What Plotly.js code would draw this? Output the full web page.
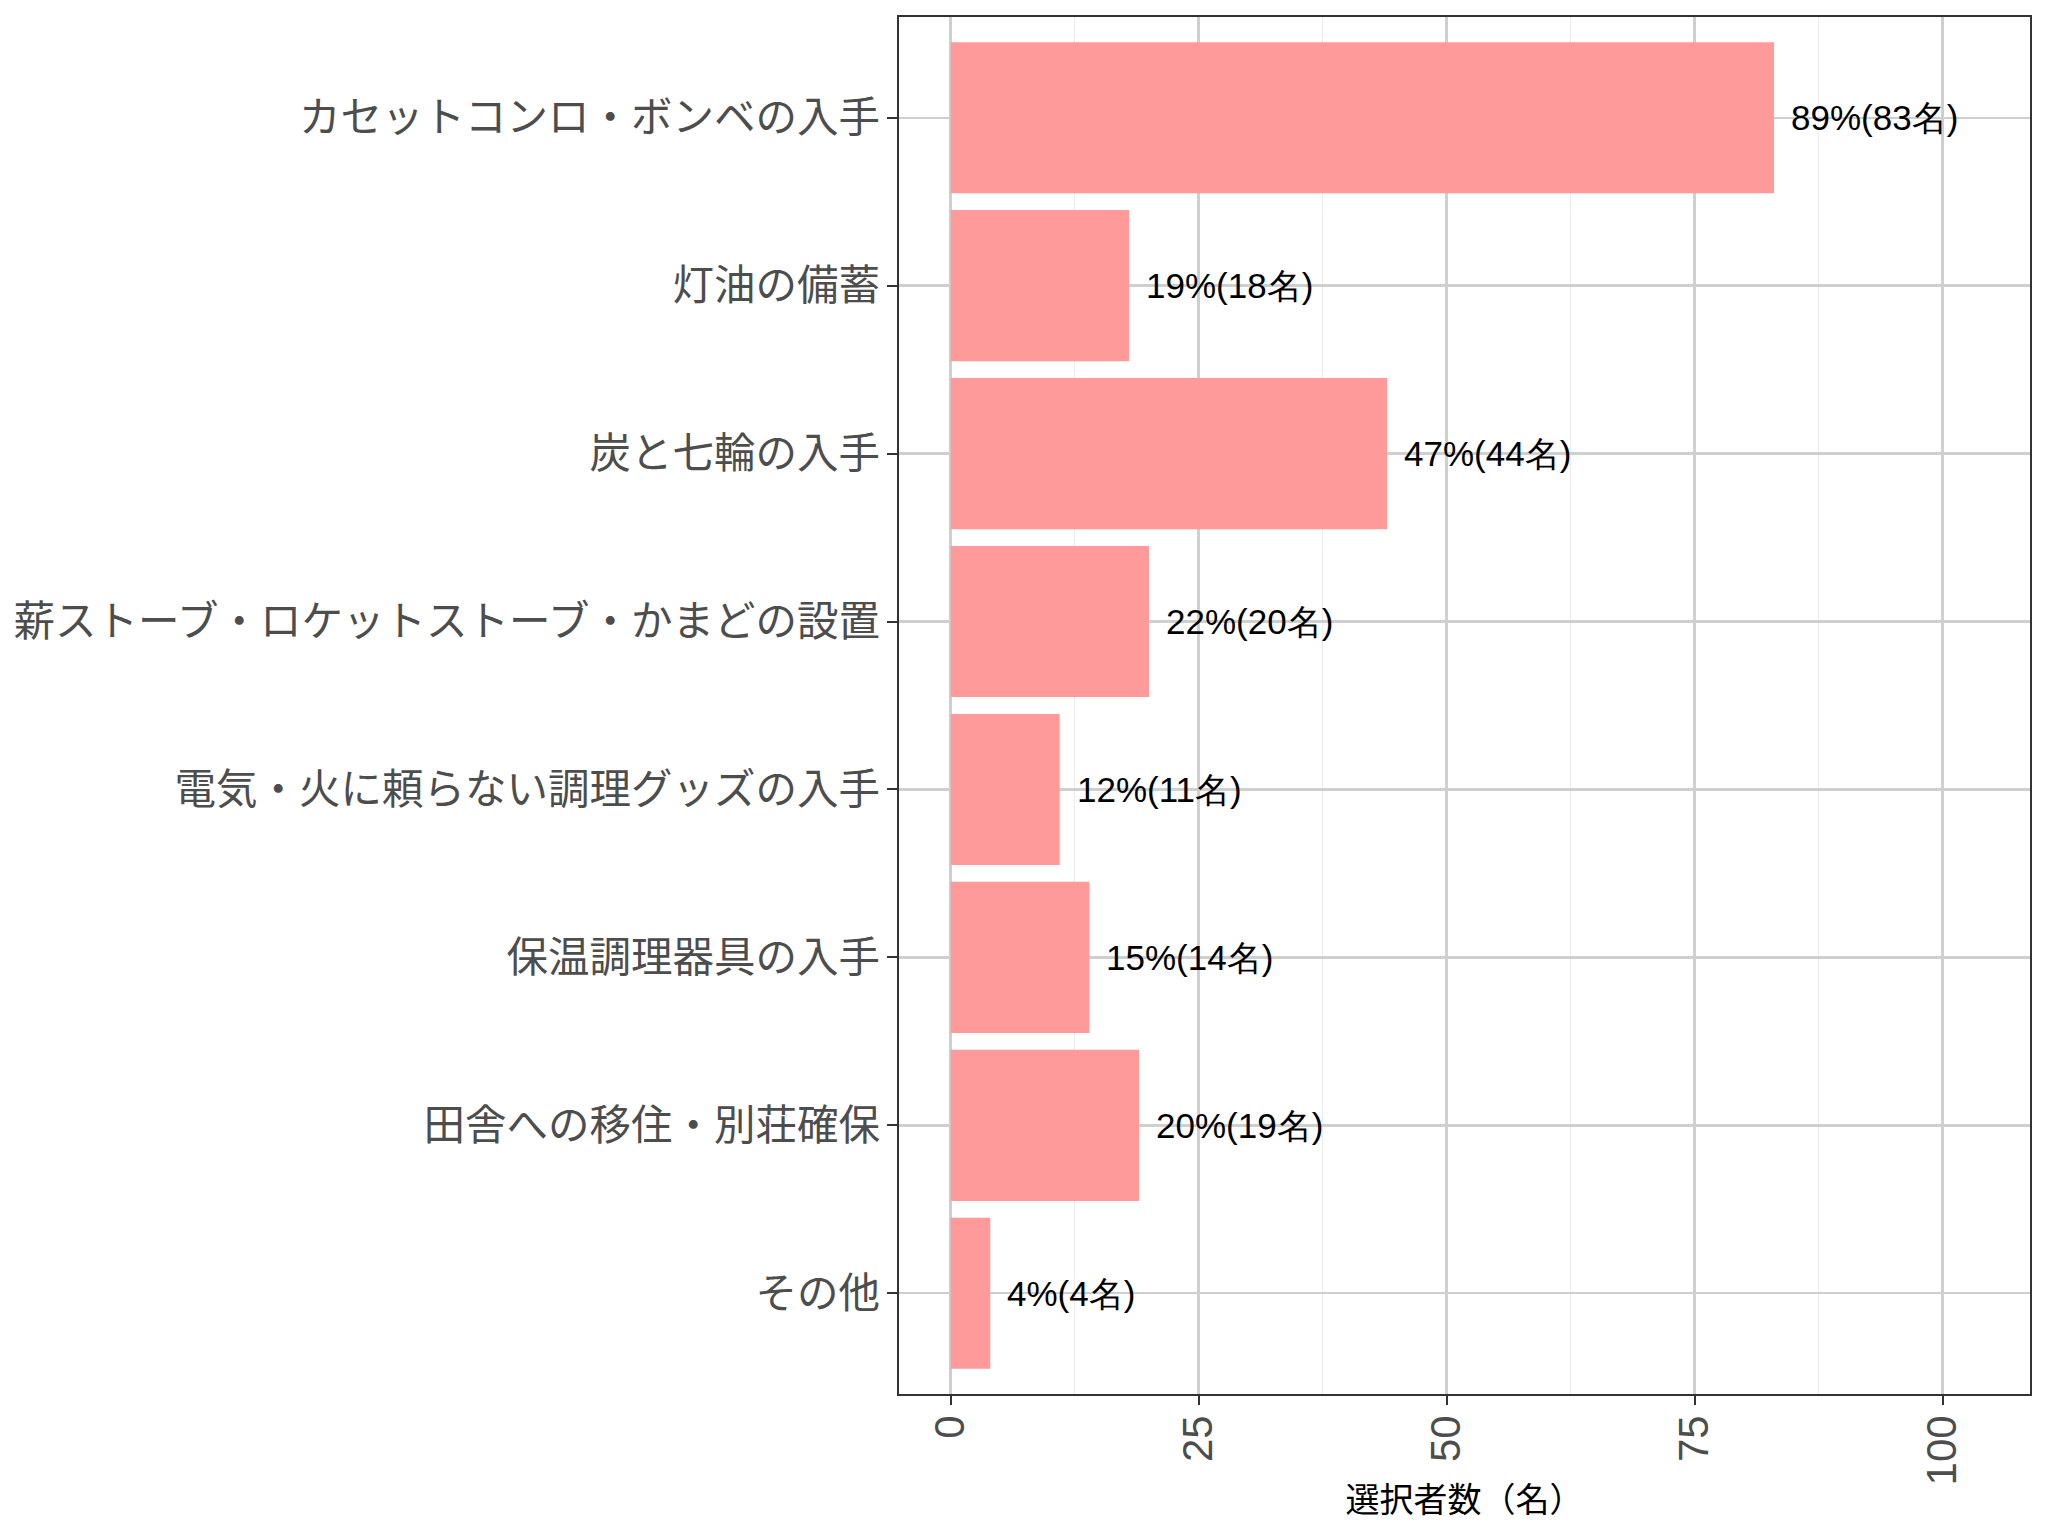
<!DOCTYPE html>
<html>
<head>
<meta charset="utf-8">
<script src="https://cdn.plot.ly/plotly-3.0.1.min.js"></script>
<style>
  html, body { margin: 0; padding: 0; background: #fff; }
  #chart { width: 2048px; height: 1536px; }
</style>
</head>
<body>
<div id="chart"></div>
<script>
// survey answers, top to bottom
const categories = [
    'カセットコンロ・ボンベの入手',
    '灯油の備蓄',
    '炭と七輪の入手',
    '薪ストーブ・ロケットストーブ・かまどの設置',
    '電気・火に頼らない調理グッズの入手',
    '保温調理器具の入手',
    '田舎への移住・別荘確保',
    'その他'
];
const counts = [ 83, 18, 44, 20, 11, 14, 19, 4 ];
const percents = [ 89, 19, 47, 22, 12, 15, 20, 4 ];
const xTicks = [ 0, 25, 50, 75, 100 ];

const labels = counts.map( ( c, i ) => percents[ i ] + '%(' + c + '名)' );

const chartData = [
    {
        type: 'bar',
        orientation: 'h',
        x: counts,
        y: categories,
        width: 0.9,
        marker: { color: '#FF9A9A', line: { width: 0 } },
        hoverinfo: 'none'
    }
];

const annotations = counts.map( ( c, i ) => ( {
    x: c,
    y: categories[ i ],
    xref: 'x',
    yref: 'y',
    text: labels[ i ],
    showarrow: false,
    xanchor: 'left',
    xshift: 15,
    font: { family: 'Liberation Sans, Arial, sans-serif', size: 35, color: '#000' }
} ) );

const chartLayout = {
    width: 2048,
    height: 1536,
    paper_bgcolor: '#fff',
    plot_bgcolor: '#fff',
    showlegend: false,
    margin: { l: 899, r: 18, t: 17, b: 142, pad: 0 },
    font: { family: 'Noto Sans CJK JP, sans-serif', color: '#4d4d4d' },
    xaxis: {
        range: [ -5.2, 108.8 ],
        tickvals: xTicks,
        ticktext: xTicks.map( String ),
        tickangle: -90,
        tickfont: { family: 'Liberation Sans, Arial, sans-serif', size: 42, color: '#4d4d4d' },
        ticks: 'outside',
        ticklen: 9,
        tickwidth: 2,
        tickcolor: '#333',
        ticklabelstandoff: -6,
        showgrid: true,
        gridcolor: '#cfcfcf',
        gridwidth: 2.5,
        minor: { dtick: 12.5, tick0: 0, showgrid: true, gridcolor: '#ececec', gridwidth: 1.3 },
        zeroline: false,
        showline: true,
        mirror: true,
        linecolor: '#333',
        linewidth: 1.6,
        title: {
            text: '選択者数（名）',
            standoff: 4,
            font: { family: 'Noto Sans CJK JP, sans-serif', size: 34, color: '#000' }
        }
    },
    yaxis: {
        type: 'category',
        categoryorder: 'array',
        categoryarray: categories,
        range: [ 7.6, -0.6 ],
        tickfont: { family: 'Noto Sans CJK JP, sans-serif', size: 41.5, color: '#4d4d4d' },
        ticks: 'outside',
        ticklen: 10,
        tickwidth: 2,
        tickcolor: '#333',
        ticklabelstandoff: -1,
        showgrid: true,
        gridcolor: '#cfcfcf',
        gridwidth: 2.5,
        zeroline: false,
        showline: true,
        mirror: true,
        linecolor: '#333',
        linewidth: 1.6
    },
    annotations: annotations
};

Plotly.newPlot( 'chart', chartData, chartLayout, { displayModeBar: false, staticPlot: true } );
</script>
</body>
</html>
